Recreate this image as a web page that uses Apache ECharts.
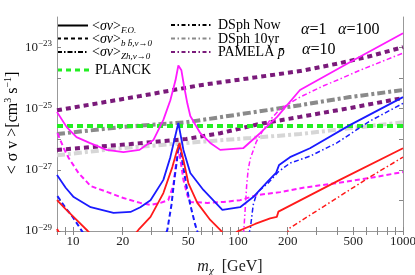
<!DOCTYPE html>
<html><head><meta charset="utf-8">
<script src="https://cdn.jsdelivr.net/npm/echarts@6/dist/echarts.min.js"></script>
<style>html,body{margin:0;padding:0;background:#fff}#c{width:415px;height:275px}</style>
</head><body><div id="c"></div>
<script>
// ---- axis ticks ----
const xTickLabels = [10, 20, 50, 100, 200, 500, 1000];
const xTicks = [8, 9, 10, 20, 30, 40, 50, 60, 70, 80, 90, 100, 200, 300, 400, 500, 600, 700, 800, 900, 1000];
const yLabelExponents = [-29, -27, -25, -23];
const yMin = 0.99999e-29, yMax = 1e-22;

// ---- model curves [m_chi (GeV), <sigma v> (cm^3/s)] ----
const redFO = [[8.0,1.02e-28],[9.03,5.2e-29],[10.4,2.45e-29],[12.3,1.0e-29],[14.1,4.4e-30],[21.7,4.4e-30],[24.9,1.08e-29],[29.5,2.9e-29],[35.3,1.74e-28],[40.0,1.23e-27],[42.4,3.8e-27],[44.2,7.6e-27],[46.7,2.1e-27],[50.0,3.7e-28],[56.7,8.3e-29],[67.9,2.3e-29],[78.0,1.08e-29],[89.7,4.7e-30],[92.3,6.3e-30],[98.9,9.6e-30],[127,1.7e-29],[156.6,2.6e-29],[171.9,2.9e-29],[175.8,4.3e-29],[414,4.7e-28],[1000,5.1e-27]];
const blueFO = [[8.0,6.8e-28],[9.03,2.6e-28],[10.1,1.29e-28],[12.8,6.0e-29],[17.6,3.9e-29],[22.3,4.2e-29],[25.6,6.0e-29],[29.5,1.02e-28],[35.3,4.7e-28],[38.9,2.6e-27],[41.8,1.38e-26],[43.5,3.4e-26],[46.7,4.5e-27],[51.4,7.9e-28],[61.7,2.2e-28],[80.4,4.9e-29],[103,6.0e-29],[123.6,1.29e-28],[152,4.3e-28],[170,7.9e-28],[177.5,1.45e-27],[206.6,2.6e-27],[273,5.1e-27],[476,2.9e-26],[1000,2.4e-25]];
const magentaFO = [[8.0,7.8e-26],[9.16,2.5e-26],[10.5,1.18e-26],[12.6,7.6e-27],[16.0,4.5e-27],[20.2,3.8e-27],[25.3,4.5e-27],[30.7,9.4e-27],[35.3,4.3e-26],[38.9,1.9e-25],[41.8,8.5e-25],[43.5,2.6e-24],[45.4,1.8e-24],[47.0,5.9e-25],[49.3,1.5e-25],[51.4,5.8e-26],[59.1,1.58e-26],[67.9,7.6e-27],[78.0,4.5e-27],[107.5,5.1e-27],[136,1.58e-26],[172.6,5.4e-26],[237.5,4.1e-25],[476,3.3e-24],[1000,2.95e-23]];

const redBB = [[8.0,1.17e-29],[8.43,6.9e-30]];
const blueBB = [[8.05,1.38e-28],[9.03,5.6e-29],[9.96,2.9e-29],[11.1,1.17e-29],[12.1,5.9e-30],[35.3,5.1e-30],[37.3,1.08e-29],[39.5,7.1e-29],[41.1,4.7e-28],[42.7,2.1e-27],[43.5,6.5e-27],[44.8,4.5e-27],[46.7,1.15e-27],[48.6,3.2e-28],[51.4,7.1e-29],[55.1,1.58e-29],[58.4,5.9e-30]];
const magentaBB = [[8.05,1.58e-26],[8.79,5.1e-27],[9.42,2.45e-27],[10.8,7.9e-28],[12.8,2.95e-28],[16.2,1.87e-28],[20.2,1.2e-28],[25.6,8.3e-29],[29.5,7.1e-29],[33.9,8.3e-29],[37.8,1.02e-28],[40.6,3.2e-28],[42.4,2.1e-27],[43.5,4.5e-27],[44.8,2.1e-27],[46.7,4.7e-28],[49.3,1.5e-28],[51.4,8.9e-29],[65.1,8.3e-29],[81.5,8.9e-29],[103,1.02e-28],[130.6,1.5e-28],[180,1.87e-28],[247.9,2.6e-28],[396,3.7e-28],[628,5.4e-28],[1000,8.5e-28]];

const redZh = [[195.6,7.4e-30],[206.6,1.26e-29],[237.5,2.04e-29],[414,1.38e-28],[628,5.8e-28],[1000,2.6e-27]];
const blueZh = [[115,7.4e-30],[118.5,1.08e-29],[123.6,7.1e-29],[128.9,1.5e-28],[136,2.2e-28],[152.3,3.7e-28],[175,8.5e-28],[206.6,1.66e-27],[273,2.8e-27],[397,7.6e-27],[628,3.9e-26],[1000,1.5e-25]];
const magentaZh = [[108,7.4e-30],[109,1.58e-29],[110.5,4.9e-29],[112.9,3.2e-28],[115.2,9.8e-28],[118.5,2.24e-27],[128.9,8.1e-27],[142,2.0e-26],[156.6,4.3e-26],[180,9.8e-26],[237.5,2.4e-25],[327,5.5e-25],[414,9.3e-25],[547,1.8e-24],[1000,6.6e-24]];

// ---- constraints ----
const pamelaUpper = [[8,8.9e-26],[25.6,2.6e-25],[59.1,5.9e-25],[118.5,1.0e-24],[237.5,1.7e-24],[414,3.1e-24],[628,5.2e-24],[1000,1.03e-23]];
const pamelaLower = [[8,4.5e-27],[22.3,7.0e-27],[48.6,1.02e-26],[78,1.58e-26],[136,3.2e-26],[237.5,5.4e-26],[476,1.05e-25],[1000,2.24e-25]];
const dsphNow = [[8,1.48e-26],[19.4,2.5e-26],[48.6,3.6e-26],[103,6.6e-26],[237.5,1.3e-25],[476,2.4e-25],[1000,4.1e-25]];
const dsph10yr = [[8,3.0e-27],[19.4,5.1e-27],[48.6,7.6e-27],[118.5,1.1e-26],[237.5,1.48e-26],[476,2.3e-26],[1000,3.6e-26]];
const planck = [[8,2.7e-26],[1000,2.7e-26]];

const SERIF = "'Liberation Serif','DejaVu Serif',serif";
const RED = '#ff1a1a', BLUE = '#1a1aff', MAG = '#ff1aff', GREEN = '#22ee22', PURPLE = '#7a1a7a', DGRAY = '#8a8a8a', LGRAY = '#d6d6d6';

function ser(data, color, width, type) {
  return { type: 'line', data: data, showSymbol: false, clip: true, silent: true, animation: false,
    lineStyle: { color: color, width: width, type: type, cap: 'butt' }, xAxisIndex: 0, yAxisIndex: 0 };
}
const DASH = [5, 3], DOTDASH = [5, 2.5, 1.5, 2.5];

const chart = echarts.init(document.getElementById('c'), null, { renderer: 'canvas' });

function expLabel(v) {
  const e = Math.round(Math.log10(v));
  if (yLabelExponents.indexOf(e) < 0) return '';
  return '{b|10}{e|' + (e < 0 ? '\u2212' : '') + Math.abs(e) + '}';
}
const tickRich = { b: { fontFamily: SERIF, fontSize: 13, color: '#222', lineHeight: 16 }, e: { fontFamily: SERIF, fontSize: 9, color: '#222', verticalAlign: 'top', lineHeight: 16 } };

const axisBase = { axisLine: { show: true, lineStyle: { color: '#999', width: 1 } }, splitLine: { show: false }, minorTick: { show: false } };

const legendText = (x, y, text, rich) => ({ type: 'text', x: x, y: y, style: { text: text, rich: rich, verticalAlign: 'middle', align: 'left' }, silent: true });
const legendLine = (x1, x2, y, color, width, dash) => ({ type: 'line', shape: { x1: x1, y1: y, x2: x2, y2: y }, style: { stroke: color, lineWidth: width, lineDash: dash }, silent: true });

const sv = { t: { fontFamily: SERIF, fontSize: 14, color: '#111', lineHeight: 18 }, i: { fontFamily: SERIF, fontSize: 14, fontStyle: 'italic', color: '#111', lineHeight: 18 }, s: { fontFamily: SERIF, fontSize: 9, fontStyle: 'italic', color: '#111', verticalAlign: 'bottom', lineHeight: 18 } };

chart.setOption({
  animation: false,
  grid: { left: 57, right: 12, top: 17, bottom: 44, containLabel: false, outerBoundsMode: 'none' },
  xAxis: [
    Object.assign({ type: 'log', logBase: 10, min: 8, max: 1000, position: 'bottom',
      axisTick: { show: true, inside: true, length: 4, customValues: xTicks, lineStyle: { color: '#888' } },
      axisLabel: { customValues: xTickLabels, margin: 4, fontFamily: SERIF, fontSize: 13, color: '#222', formatter: v => String(Math.round(v)) },
      name: '{i|m}{c|\u03c7}{a|  [GeV]}', nameLocation: 'middle', nameGap: 26,
      nameTextStyle: { rich: { i: { fontFamily: SERIF, fontSize: 16, fontStyle: 'italic', color: '#222', lineHeight: 20 }, c: { fontFamily: SERIF, fontSize: 11, fontStyle: 'italic', color: '#222', verticalAlign: 'bottom', lineHeight: 20 }, a: { fontFamily: SERIF, fontSize: 16, color: '#222', lineHeight: 20 } } }
    }, axisBase),
    Object.assign({ type: 'log', logBase: 10, min: 8, max: 1000, position: 'top',
      axisTick: { show: true, inside: true, length: 4, customValues: xTicks, lineStyle: { color: '#888' } },
      axisLabel: { show: false } }, axisBase)
  ],
  yAxis: [
    Object.assign({ type: 'log', logBase: 10, min: yMin, max: yMax, splitNumber: 7, position: 'left',
      axisTick: { show: true, inside: true, length: 4, lineStyle: { color: '#888' } },
      axisLabel: { margin: 5, formatter: expLabel, rich: tickRich, showMinLabel: true, showMaxLabel: true, hideOverlap: false }
    }, axisBase),
    Object.assign({ type: 'log', logBase: 10, min: yMin, max: yMax, splitNumber: 7, position: 'right',
      axisTick: { show: true, inside: true, length: 4, lineStyle: { color: '#888' } },
      axisLabel: { show: false } }, axisBase)
  ],
  series: [
    ser(dsph10yr, LGRAY, 4, [8, 3, 3, 3]),
    ser(dsphNow, DGRAY, 4, [8, 3, 3, 3]),
    ser(pamelaLower, PURPLE, 4, [5, 4]),
    ser(pamelaUpper, PURPLE, 4, [5, 4]),
    ser(planck, GREEN, 4, [6, 4]),
    ser(magentaBB, MAG, 2, DASH),
    ser(blueBB, BLUE, 2, DASH),
    ser(redBB, RED, 2, DASH),
    ser(magentaZh, MAG, 1.5, DOTDASH),
    ser(blueZh, BLUE, 1.5, DOTDASH),
    ser(redZh, RED, 1.5, DOTDASH),
    ser(magentaFO, MAG, 1.8, 'solid'),
    ser(blueFO, BLUE, 1.8, 'solid'),
    ser(redFO, RED, 1.8, 'solid')
  ],
  graphic: [
    { type: 'text', x: 13, y: 123, rotation: Math.PI / 2, silent: true,
      style: { text: '{a|< \u03c3 v >[cm}{p|3}{a| s}{p|\u22121}{a|]}', align: 'center', verticalAlign: 'middle',
        rich: { a: { fontFamily: SERIF, fontSize: 16, color: '#222', lineHeight: 20 }, p: { fontFamily: SERIF, fontSize: 10, color: '#222', verticalAlign: 'top', lineHeight: 20 } } } },
    legendLine(57, 88, 25.5, '#000', 2, null),
    legendText(92, 26, '{t|<}{i|\u03c3v}{t|>}{s|F.O.}', sv),
    legendLine(57, 88, 38.5, '#000', 2, [4, 3]),
    legendText(92, 39, '{t|<}{i|\u03c3v}{t|>}{s|b b\u0304,v\u21920}', sv),
    legendLine(57, 88, 52, '#000', 1.8, [5, 2, 1.5, 2]),
    legendText(92, 52.5, '{t|<}{i|\u03c3v}{t|>}{s|Zh,v\u21920}', sv),
    legendLine(57, 90, 70, GREEN, 3, [5, 4]),
    legendText(95, 70.5, '{g|PLANCK}', { g: { fontFamily: SERIF, fontSize: 14, color: GREEN } }),
    legendLine(171, 213, 25, '#000', 1.8, [4, 2.5, 1.5, 2.5]),
    legendText(218, 25.5, '{k|DSph Now}', { k: { fontFamily: SERIF, fontSize: 14, color: '#111' } }),
    legendLine(171, 213, 38.5, DGRAY, 1.8, [4, 2.5, 1.5, 2.5]),
    legendText(218, 39, '{k|DSph 10yr}', { k: { fontFamily: SERIF, fontSize: 14, color: '#8a8a8a' } }),
    legendLine(171, 213, 52, PURPLE, 1.8, [4, 2.5, 1.5, 2.5]),
    legendText(218, 52.5, '{k|PAMELA }{p|p\u0304}', { k: { fontFamily: SERIF, fontSize: 14, color: PURPLE }, p: { fontFamily: SERIF, fontSize: 14, fontStyle: 'italic', color: PURPLE } }),
    legendText(301, 30, '{a|\u03b1}{b|=1}', { a: { fontFamily: SERIF, fontSize: 16, fontStyle: 'italic', color: RED }, b: { fontFamily: SERIF, fontSize: 16, color: RED } }),
    legendText(338, 30, '{a|\u03b1}{b|=100}', { a: { fontFamily: SERIF, fontSize: 16, fontStyle: 'italic', color: MAG }, b: { fontFamily: SERIF, fontSize: 16, color: MAG } }),
    legendText(302, 50, '{a|\u03b1}{b|=10}', { a: { fontFamily: SERIF, fontSize: 16, fontStyle: 'italic', color: BLUE }, b: { fontFamily: SERIF, fontSize: 16, color: BLUE } })
  ]
});
</script>
</body></html>
